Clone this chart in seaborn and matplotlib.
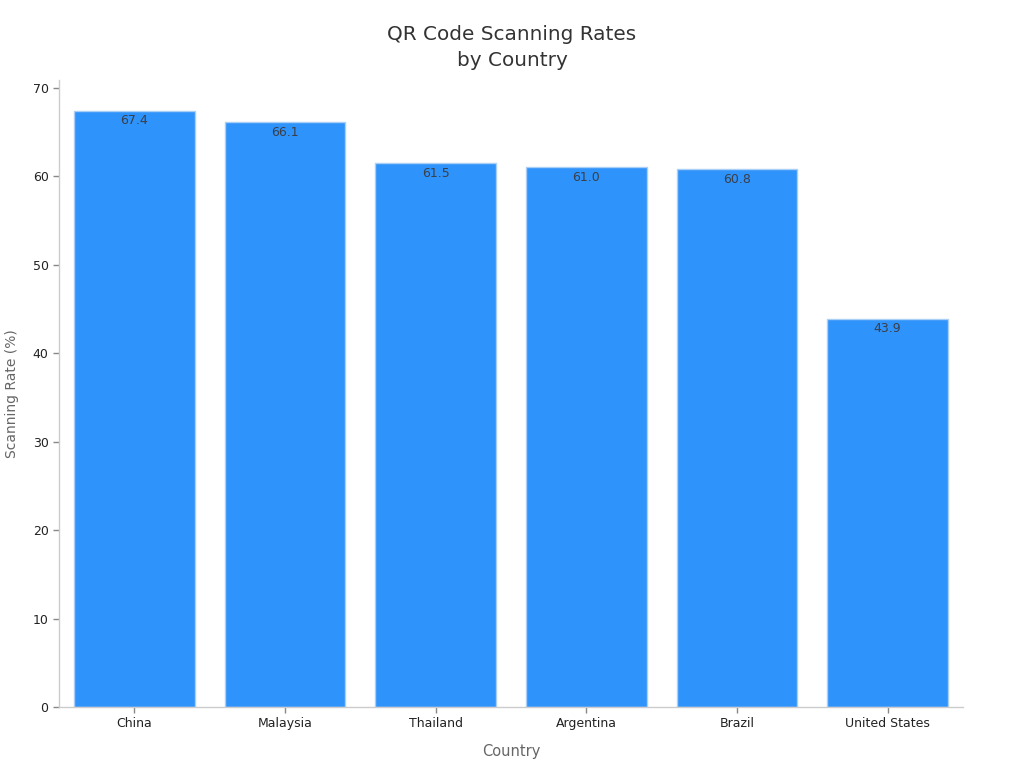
import matplotlib
matplotlib.use("Agg")
import matplotlib.pyplot as plt
import seaborn as sns
import pandas as pd

countries = ["China", "Malaysia", "Thailand", "Argentina", "Brazil", "United States"]
rates = [67.4, 66.1, 61.5, 61.0, 60.8, 43.9]

df = pd.DataFrame({"Country": countries, "Rate": rates})

sns.set_style("white")
plt.rcParams['font.family'] = ['DejaVu Sans']

fig = plt.figure(figsize=(10.24, 7.68), dpi=100)
ax = fig.add_axes([0.0576, 0.0794, 0.8828, 0.8166])

sns.barplot(data=df, x="Country", y="Rate", color="#2E93FA", saturation=1,
            width=0.8, edgecolor="#a9cff7", linewidth=1, ax=ax)

for i, v in enumerate(rates):
    ax.text(i, v - 0.4, f"{v:.1f}", ha="center", va="top", fontsize=9, color="#3a3f4a")

ax.set_xlim(-0.5, 5.5)
ax.set_ylim(0, 70.9)
ax.set_yticks(range(0, 80, 10))
ax.tick_params(axis="both", bottom=True, left=True, labelsize=9, labelcolor="#222222",
               length=4, width=1, color="#888888")

for s in ["top", "right"]:
    ax.spines[s].set_visible(False)
for s in ["left", "bottom"]:
    ax.spines[s].set_color("#cccccc")
    ax.spines[s].set_linewidth(1)

ax.set_xlabel("Country", fontsize=10.5, color="#666666", labelpad=10)
ax.set_ylabel("Scanning Rate (%)", fontsize=10, color="#666666", labelpad=10)
fig.suptitle("QR Code Scanning Rates\nby Country", fontsize=14.4, color="#333333",
             x=0.5, y=0.967, linespacing=1.45)

fig.savefig("out.png", dpi=100)
